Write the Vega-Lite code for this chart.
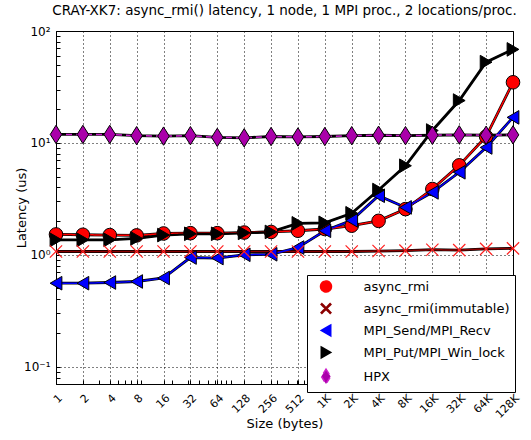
{
  "$schema": "https://vega.github.io/schema/vega-lite/v6.json",
  "width": 457,
  "height": 353,
  "autosize": {"type": "none"},
  "padding": {"left": 56, "top": 31, "right": 18, "bottom": 56},
  "title": {"text": "CRAY-XK7: async_rmi() latency, 1 node, 1 MPI proc., 2 locations/proc.", "fontSize": 13.5, "font": "DejaVu Sans", "fontWeight": "normal", "anchor": "middle", "offset": 8, "color": "black"},
  "config": {
    "font": "DejaVu Sans",
    "view": {"stroke": "black", "strokeWidth": 1},
    "axis": {"domain": false, "ticks": true, "tickOpacity": 1, "tickWidth": 1, "tickColor": "black", "labelColor": "black", "titleColor": "black", "titleFontWeight": "normal", "titleFont": "DejaVu Sans", "labelFont": "DejaVu Sans", "gridColor": "black", "gridDash": [1, 3], "gridWidth": 1, "labelOverlap": false, "labelFlush": false, "labelBound": false, "titleFontSize": 13}
  },
  "data": {"values": [
    {"size": 1, "series": "async_rmi", "latency": 1.52},
    {"size": 2, "series": "async_rmi", "latency": 1.51},
    {"size": 4, "series": "async_rmi", "latency": 1.50},
    {"size": 8, "series": "async_rmi", "latency": 1.49},
    {"size": 16, "series": "async_rmi", "latency": 1.55},
    {"size": 32, "series": "async_rmi", "latency": 1.56},
    {"size": 64, "series": "async_rmi", "latency": 1.56},
    {"size": 128, "series": "async_rmi", "latency": 1.58},
    {"size": 256, "series": "async_rmi", "latency": 1.60},
    {"size": 512, "series": "async_rmi", "latency": 1.64},
    {"size": 1024, "series": "async_rmi", "latency": 1.70},
    {"size": 2048, "series": "async_rmi", "latency": 1.82},
    {"size": 4096, "series": "async_rmi", "latency": 2.01},
    {"size": 8192, "series": "async_rmi", "latency": 2.56},
    {"size": 16384, "series": "async_rmi", "latency": 3.87},
    {"size": 32768, "series": "async_rmi", "latency": 6.3},
    {"size": 65536, "series": "async_rmi", "latency": 11.4},
    {"size": 131072, "series": "async_rmi", "latency": 34.8},
    {"size": 1, "series": "async_rmi(immutable)", "latency": 1.07},
    {"size": 2, "series": "async_rmi(immutable)", "latency": 1.07},
    {"size": 4, "series": "async_rmi(immutable)", "latency": 1.07},
    {"size": 8, "series": "async_rmi(immutable)", "latency": 1.07},
    {"size": 16, "series": "async_rmi(immutable)", "latency": 1.07},
    {"size": 32, "series": "async_rmi(immutable)", "latency": 1.07},
    {"size": 64, "series": "async_rmi(immutable)", "latency": 1.07},
    {"size": 128, "series": "async_rmi(immutable)", "latency": 1.07},
    {"size": 256, "series": "async_rmi(immutable)", "latency": 1.07},
    {"size": 512, "series": "async_rmi(immutable)", "latency": 1.07},
    {"size": 1024, "series": "async_rmi(immutable)", "latency": 1.07},
    {"size": 2048, "series": "async_rmi(immutable)", "latency": 1.07},
    {"size": 4096, "series": "async_rmi(immutable)", "latency": 1.08},
    {"size": 8192, "series": "async_rmi(immutable)", "latency": 1.09},
    {"size": 16384, "series": "async_rmi(immutable)", "latency": 1.11},
    {"size": 32768, "series": "async_rmi(immutable)", "latency": 1.10},
    {"size": 65536, "series": "async_rmi(immutable)", "latency": 1.13},
    {"size": 131072, "series": "async_rmi(immutable)", "latency": 1.14},
    {"size": 1, "series": "MPI_Send/MPI_Recv", "latency": 0.557},
    {"size": 2, "series": "MPI_Send/MPI_Recv", "latency": 0.557},
    {"size": 4, "series": "MPI_Send/MPI_Recv", "latency": 0.565},
    {"size": 8, "series": "MPI_Send/MPI_Recv", "latency": 0.577},
    {"size": 16, "series": "MPI_Send/MPI_Recv", "latency": 0.62},
    {"size": 32, "series": "MPI_Send/MPI_Recv", "latency": 0.945},
    {"size": 64, "series": "MPI_Send/MPI_Recv", "latency": 0.935},
    {"size": 128, "series": "MPI_Send/MPI_Recv", "latency": 1.0},
    {"size": 256, "series": "MPI_Send/MPI_Recv", "latency": 1.01},
    {"size": 512, "series": "MPI_Send/MPI_Recv", "latency": 1.16},
    {"size": 1024, "series": "MPI_Send/MPI_Recv", "latency": 1.64},
    {"size": 2048, "series": "MPI_Send/MPI_Recv", "latency": 2.03},
    {"size": 4096, "series": "MPI_Send/MPI_Recv", "latency": 3.37},
    {"size": 8192, "series": "MPI_Send/MPI_Recv", "latency": 2.65},
    {"size": 16384, "series": "MPI_Send/MPI_Recv", "latency": 3.61},
    {"size": 32768, "series": "MPI_Send/MPI_Recv", "latency": 5.46},
    {"size": 65536, "series": "MPI_Send/MPI_Recv", "latency": 9.1},
    {"size": 131072, "series": "MPI_Send/MPI_Recv", "latency": 16.9},
    {"size": 1, "series": "MPI_Put/MPI_Win_lock", "latency": 1.36},
    {"size": 2, "series": "MPI_Put/MPI_Win_lock", "latency": 1.36},
    {"size": 4, "series": "MPI_Put/MPI_Win_lock", "latency": 1.36},
    {"size": 8, "series": "MPI_Put/MPI_Win_lock", "latency": 1.40},
    {"size": 16, "series": "MPI_Put/MPI_Win_lock", "latency": 1.50},
    {"size": 32, "series": "MPI_Put/MPI_Win_lock", "latency": 1.54},
    {"size": 64, "series": "MPI_Put/MPI_Win_lock", "latency": 1.54},
    {"size": 128, "series": "MPI_Put/MPI_Win_lock", "latency": 1.57},
    {"size": 256, "series": "MPI_Put/MPI_Win_lock", "latency": 1.60},
    {"size": 512, "series": "MPI_Put/MPI_Win_lock", "latency": 1.91},
    {"size": 1024, "series": "MPI_Put/MPI_Win_lock", "latency": 1.93},
    {"size": 2048, "series": "MPI_Put/MPI_Win_lock", "latency": 2.35},
    {"size": 4096, "series": "MPI_Put/MPI_Win_lock", "latency": 3.79},
    {"size": 8192, "series": "MPI_Put/MPI_Win_lock", "latency": 6.25},
    {"size": 16384, "series": "MPI_Put/MPI_Win_lock", "latency": 12.9},
    {"size": 32768, "series": "MPI_Put/MPI_Win_lock", "latency": 23.9},
    {"size": 65536, "series": "MPI_Put/MPI_Win_lock", "latency": 52.7},
    {"size": 131072, "series": "MPI_Put/MPI_Win_lock", "latency": 68.5},
    {"size": 1, "series": "HPX", "latency": 11.9},
    {"size": 2, "series": "HPX", "latency": 11.9},
    {"size": 4, "series": "HPX", "latency": 11.9},
    {"size": 8, "series": "HPX", "latency": 11.6},
    {"size": 16, "series": "HPX", "latency": 11.5},
    {"size": 32, "series": "HPX", "latency": 11.6},
    {"size": 64, "series": "HPX", "latency": 11.2},
    {"size": 128, "series": "HPX", "latency": 11.1},
    {"size": 256, "series": "HPX", "latency": 11.4},
    {"size": 512, "series": "HPX", "latency": 11.3},
    {"size": 1024, "series": "HPX", "latency": 11.4},
    {"size": 2048, "series": "HPX", "latency": 11.6},
    {"size": 4096, "series": "HPX", "latency": 11.7},
    {"size": 8192, "series": "HPX", "latency": 11.6},
    {"size": 16384, "series": "HPX", "latency": 11.7},
    {"size": 32768, "series": "HPX", "latency": 11.8},
    {"size": 65536, "series": "HPX", "latency": 11.7},
    {"size": 131072, "series": "HPX", "latency": 11.8}
  ]},
  "encoding": {
    "x": {
      "field": "size", "type": "quantitative",
      "scale": {"type": "log", "base": 2, "domain": [1, 131072], "nice": false},
      "axis": {
        "title": "Size (bytes)",
        "values": [1, 2, 3, 4, 5, 6, 7, 8, 9, 16, 20, 30, 32, 40, 50, 60, 64, 70, 80, 90, 128, 200, 256, 300, 400, 500, 512, 600, 700, 800, 900, 1024, 2000, 2048, 3000, 4000, 4096, 5000, 6000, 7000, 8000, 8192, 9000, 16384, 20000, 30000, 32768, 40000, 50000, 60000, 65536, 70000, 80000, 90000, 131072],
        "labelExpr": "indexof([1,2,4,8,16,32,64,128,256,512,1024,2048,4096,8192,16384,32768,65536,131072], datum.value) >= 0 ? (datum.value >= 1024 ? (datum.value / 1024) + 'K' : datum.value + '') : ''",
        "tickSize": -4,
        "gridOpacity": {"condition": {"test": "indexof([1,2,4,8,16,32,64,128,256,512,1024,2048,4096,8192,16384,32768,65536,131072], datum.value) >= 0", "value": 1}, "value": 0},
        "labelAngle": -45, "labelAlign": "right", "labelBaseline": "top", "labelFontSize": 11, "labelPadding": 12, "titlePadding": -2
      }
    },
    "y": {
      "field": "latency", "type": "quantitative",
      "scale": {"type": "log", "domain": [0.07, 100], "nice": false},
      "axis": {
        "title": "Latency (us)",
        "values": [0.07, 0.08, 0.09, 0.1, 0.2, 0.3, 0.4, 0.5, 0.6, 0.7, 0.8, 0.9, 1, 2, 3, 4, 5, 6, 7, 8, 9, 10, 20, 30, 40, 50, 60, 70, 80, 90, 100],
        "labelExpr": "datum.value == 0.1 ? '10⁻¹' : datum.value == 1 ? '10⁰' : datum.value == 10 ? '10¹' : datum.value == 100 ? '10²' : ''",
        "tickSize": -4,
        "gridOpacity": {"condition": {"test": "indexof([0.1,1,10,100], datum.value) >= 0", "value": 1}, "value": 0},
        "labelFontSize": 12, "labelPadding": 10, "titlePadding": -5
      }
    }
  },
  "layer": [
    {
      "mark": {"type": "line", "color": "black", "strokeWidth": 2.8},
      "encoding": {"detail": {"field": "series", "type": "nominal"}}
    },
    {
      "mark": {"type": "line", "strokeWidth": 1.5},
      "encoding": {
        "color": {"field": "series", "type": "nominal",
          "scale": {"domain": ["async_rmi", "async_rmi(immutable)", "MPI_Send/MPI_Recv", "MPI_Put/MPI_Win_lock", "HPX"], "range": ["#ff0000", "#8b0000", "#0000ff", "#000000", "#cc22cc"]},
          "legend": {
            "title": null, "orient": "none", "legendX": 251, "legendY": 244,
            "padding": 5, "strokeColor": "black", "fillColor": "white", "cornerRadius": 0,
            "symbolSize": 120, "symbolOffset": 7.5, "labelOffset": 31, "rowPadding": 5,
            "labelFontSize": 13, "labelFont": "DejaVu Sans", "labelColor": "black"
          }
        },
        "strokeDash": {"field": "series", "type": "nominal", "legend": null,
          "scale": {"domain": ["async_rmi", "async_rmi(immutable)", "MPI_Send/MPI_Recv", "MPI_Put/MPI_Win_lock", "HPX"], "range": [[1, 0], [1, 0], [1, 0], [1, 0], [6, 4]]}}
      }
    },
    {
      "transform": [{"filter": "datum.series != 'async_rmi(immutable)'"}],
      "mark": {"type": "point", "filled": true, "stroke": "black", "strokeWidth": 1, "opacity": 1, "size": 185},
      "encoding": {
        "fill": {"field": "series", "type": "nominal", "legend": null,
          "scale": {"domain": ["async_rmi", "async_rmi(immutable)", "MPI_Send/MPI_Recv", "MPI_Put/MPI_Win_lock", "HPX"], "range": ["#ff0000", "#ff0000", "#0000ff", "#000000", "#aa00aa"]}},
        "shape": {"field": "series", "type": "nominal", "legend": null,
          "scale": {"domain": ["async_rmi", "async_rmi(immutable)", "MPI_Send/MPI_Recv", "MPI_Put/MPI_Win_lock", "HPX"], "range": ["circle", "M-0.9,-0.75L-0.75,-0.9L0,-0.15L0.75,-0.9L0.9,-0.75L0.15,0L0.9,0.75L0.75,0.9L0,0.15L-0.75,0.9L-0.9,0.75L-0.15,0Z", "triangle-left", "triangle-right", "M0,-1.35L0.85,0L0,1.35L-0.85,0Z"]}}
      }
    },
    {
      "transform": [{"filter": "datum.series == 'async_rmi(immutable)'"}],
      "mark": {"type": "point", "filled": false, "stroke": "#ff2020", "strokeWidth": 1.2, "opacity": 1, "size": 185, "shape": "M-0.9,-0.9L0.9,0.9M0.9,-0.9L-0.9,0.9"},
      "encoding": {}
    }
  ]
}
